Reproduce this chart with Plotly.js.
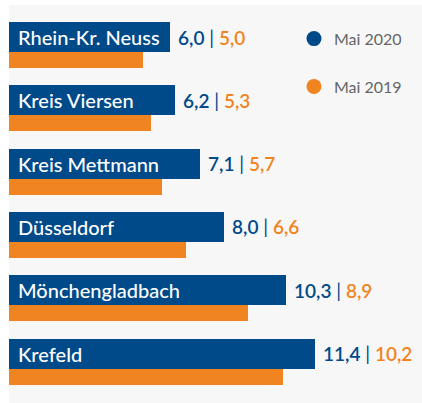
<!DOCTYPE html>
<html>
<head>
<meta charset="utf-8">
<script src="https://cdn.plot.ly/plotly-3.0.1.min.js"></script>
<style>html,body{margin:0;padding:0;background:#fff;}#chart{width:422px;height:403px;}</style>
</head>
<body>
<div id="chart"></div>
<script>
const categories = ["Rhein-Kr. Neuss", "Kreis Viersen", "Kreis Mettmann", "Düsseldorf", "Mönchengladbach", "Krefeld"];
const mai2020 = [6.0, 6.2, 7.1, 8.0, 10.3, 11.4];
const mai2019 = [5.0, 5.3, 5.7, 6.6, 8.9, 10.2];
const seriesNames = ["Mai 2020", "Mai 2019"];

const BLUE = "#004a8a";
const ORANGE = "#f08421";
const FONT = "Lato";

const rowIdx = categories.map((c, i) => i);
const blueW = 0.474, orangeW = 0.253;
const fmt = v => v.toFixed(1).replace(".", ",");

const traces = [
  {
    type: "bar", orientation: "h", x: mai2020, y: rowIdx,
    width: blueW, offset: 0, marker: { color: BLUE }, showlegend: false, hoverinfo: "skip"
  },
  {
    type: "bar", orientation: "h", x: mai2019, y: rowIdx,
    width: orangeW, offset: blueW, marker: { color: ORANGE }, showlegend: false, hoverinfo: "skip"
  },
  {
    type: "scatter", mode: "markers", x: [null], y: [null], name: seriesNames[0],
    marker: { color: BLUE, size: 15, symbol: "circle" }, legendgroup: "a"
  },
  {
    type: "scatter", mode: "markers", x: [null], y: [null], name: seriesNames[1],
    marker: { color: ORANGE, size: 15, symbol: "circle" }, legendgroup: "b"
  }
];

const annotations = [];
categories.forEach((c, i) => {
  annotations.push({
    x: 0, y: i + blueW / 2, xref: "x", yref: "y", xanchor: "left", yanchor: "middle",
    xshift: 7, text: c, showarrow: false,
    font: { family: FONT, size: 20, color: "#ffffff", weight: 500 }
  });
  annotations.push({
    x: mai2020[i], y: i + blueW / 2, xref: "x", yref: "y", xanchor: "left", yanchor: "middle",
    xshift: 6,
    text: fmt(mai2020[i]) + '<span style="color:' + BLUE + ';font-weight:400"> | </span><span style="color:' + ORANGE + '">' + fmt(mai2019[i]) + '</span>',
    showarrow: false,
    font: { family: FONT, size: 19, color: BLUE, weight: 600 }
  });
});

const layout = {
  width: 422, height: 403,
  margin: { l: 9, r: 0, t: 5, b: 0, pad: 0 },
  paper_bgcolor: "#ffffff",
  plot_bgcolor: "#f7f7f7",
  barmode: "overlay",
  bargap: 0,
  xaxis: { range: [0, 15.38], visible: false, fixedrange: true },
  yaxis: { range: [6.019, -0.2686], visible: false, fixedrange: true },
  showlegend: true,
  legend: {
    x: 0.69, y: 0.958, xanchor: "left", yanchor: "top",
    bgcolor: "rgba(0,0,0,0)", traceorder: "grouped", tracegroupgap: 24,
    font: { family: FONT, size: 16, color: "#666666" }
  },
  annotations: annotations
};

Plotly.newPlot("chart", traces, layout, { displayModeBar: false, staticPlot: true });
</script>
</body>
</html>
